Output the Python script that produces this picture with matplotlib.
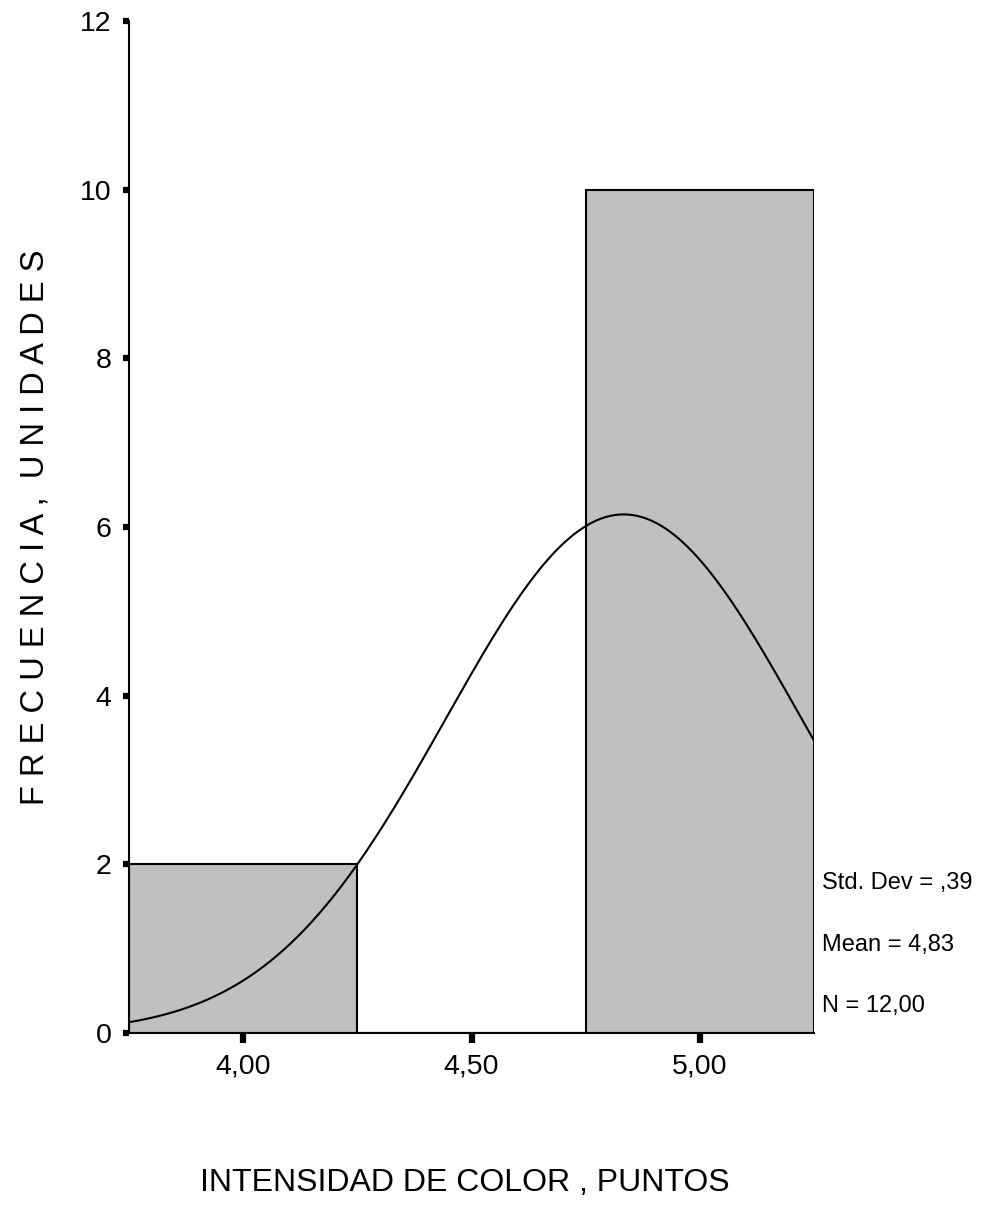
import numpy as np
import matplotlib.pyplot as plt
from matplotlib import font_manager

# puntuaciones individuales (2 con 4, 10 con 5)
valores = [4, 4, 5, 5, 5, 5, 5, 5, 5, 5, 5, 5]
bordes = [3.75, 4.25, 4.75, 5.25]
ticks_x = [4.0, 4.5, 5.0]
ticks_y = [0, 2, 4, 6, 8, 10, 12]

nombres = {f.name for f in font_manager.fontManager.ttflist}
fuente = 'Liberation Sans' if 'Liberation Sans' in nombres else 'DejaVu Sans'

datos = np.array(valores, dtype=float)
n = len(datos)
media = datos.mean()
desv = datos.std(ddof=1)
ancho = bordes[1] - bordes[0]

W, H = 986, 1211
fig = plt.figure(figsize=(W / 100, H / 100), dpi=100)
ax = fig.add_axes([129 / W, 1 - 1033 / H, 685 / W, 1012 / H])

ax.hist(datos, bins=bordes, color='#c0c0c0', edgecolor='black', linewidth=1.5)

# curva normal con la media y desviacion de los datos
xs = np.linspace(bordes[0], bordes[-1], 300)
curva = n * ancho / (desv * np.sqrt(2 * np.pi)) * np.exp(-0.5 * ((xs - media) / desv) ** 2)
ax.plot(xs, curva, color='black', linewidth=1.5)

ax.set_xlim(bordes[0], bordes[-1])
ax.set_ylim(0, 12)
ax.set_xticks(ticks_x)
ax.set_xticklabels([f'{t:.2f}'.replace('.', ',') for t in ticks_x])
ax.set_yticks(ticks_y)
ax.set_yticklabels([str(t) for t in ticks_y])

for s in ['top', 'right']:
    ax.spines[s].set_visible(False)
for s in ['left', 'bottom']:
    ax.spines[s].set_linewidth(1.5)

ax.tick_params(axis='y', direction='out', length=4.5, width=4.5, pad=8)
ax.tick_params(axis='x', direction='out', length=7, width=4.5, pad=8)
for lab in ax.get_xticklabels() + ax.get_yticklabels():
    lab.set_fontfamily(fuente)
    lab.set_fontsize(20.5)

fig.text(465 / W, 1 - 1183 / H, 'INTENSIDAD DE COLOR , PUNTOS', fontfamily=fuente,
         fontsize=23, ha='center', va='center')
fig.text(35 / W, 1 - 527 / H, ' '.join('FRECUENCIA,') + '  ' + ' '.join('UNIDADES'),
         fontfamily=fuente, fontsize=23.5, rotation=90, ha='center', va='center')

estad = [('Std. Dev = ,' + f'{desv:.2f}'.split('.')[1], 880),
         ('Mean = ' + f'{media:.2f}'.replace('.', ','), 942),
         ('N = ' + f'{n:.2f}'.replace('.', ','), 1003)]
for texto, ypix in estad:
    fig.text(822 / W, 1 - (ypix + 9) / H, texto, fontfamily=fuente, fontsize=17,
             ha='left', va='baseline')

fig.savefig('out.png', dpi=100)
